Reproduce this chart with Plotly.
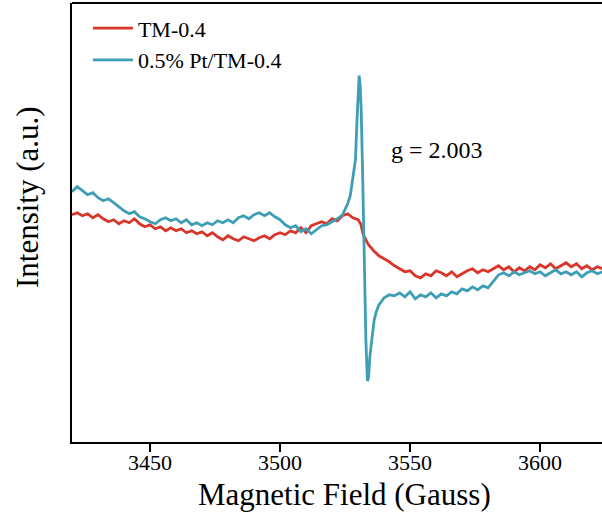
import plotly.graph_objects as go

# --- data ---
field_tm = [3420, 3422, 3424, 3426, 3428, 3430, 3432, 3434, 3436, 3438,
            3440, 3442, 3444, 3446, 3448, 3450, 3452, 3454, 3456, 3458,
            3460, 3462, 3464, 3466, 3468, 3470, 3472, 3474, 3476, 3478,
            3480, 3482, 3484, 3486, 3488, 3490, 3492, 3494, 3496, 3498,
            3500, 3502, 3504, 3506, 3508, 3510, 3512, 3514, 3516, 3518,
            3520, 3522, 3524, 3526, 3528, 3530, 3531, 3532, 3534, 3536,
            3538, 3540, 3542, 3544, 3546, 3548, 3550, 3552, 3554, 3556,
            3558, 3560, 3562, 3564, 3566, 3568, 3570, 3572, 3574, 3576,
            3578, 3580, 3582, 3584, 3586, 3588, 3590, 3592, 3594, 3596,
            3598, 3600, 3602, 3604, 3606, 3608, 3610, 3612, 3614, 3616,
            3618, 3620, 3622, 3624]
int_tm = [227, 229, 226, 228, 224, 227, 223, 220, 222, 218,
          221, 219, 223, 218, 215, 217, 213, 215, 211, 214,
          211, 213, 209, 211, 208, 210, 206, 209, 205, 202,
          206, 203, 201, 205, 203, 201, 204, 206, 203, 207,
          209, 207, 211, 209, 214, 209, 216, 218, 220, 218,
          223, 221, 226, 228, 224, 222, 218, 207, 197, 191,
          186, 183, 180, 176, 173, 170, 171, 166, 164, 168,
          166, 171, 169, 166, 170, 165, 168, 171, 173, 169,
          172, 170, 173, 176, 172, 175, 170, 174, 171, 175,
          172, 177, 174, 178, 173, 176, 179, 175, 178, 173,
          176, 172, 175, 173]

field_pt = [3420, 3422, 3424, 3426, 3428, 3430, 3432, 3434, 3436, 3438,
            3440, 3442, 3444, 3446, 3448, 3450, 3452, 3454, 3456, 3458,
            3460, 3462, 3464, 3466, 3468, 3470, 3472, 3474, 3476, 3478,
            3480, 3482, 3484, 3486, 3488, 3490, 3492, 3494, 3496, 3498,
            3500, 3502, 3504, 3506, 3508, 3510, 3512, 3514, 3516, 3518,
            3520, 3522, 3524, 3525, 3526, 3527, 3528, 3529, 3529.6, 3530.0,
            3530.4, 3530.8, 3531.2, 3531.8, 3532.4, 3533.0, 3533.6, 3534.0, 3534.6, 3535.4,
            3536.2, 3537, 3538, 3540, 3542, 3544, 3546, 3548, 3550, 3552,
            3554, 3556, 3558, 3560, 3562, 3564, 3566, 3568, 3570, 3572,
            3574, 3576, 3578, 3580, 3582, 3584, 3586, 3588, 3590, 3592,
            3594, 3596, 3598, 3600, 3602, 3604, 3606, 3608, 3610, 3612,
            3614, 3616, 3618, 3620, 3622, 3624]
int_pt = [250, 255, 251, 247, 249, 244, 241, 243, 239, 235,
          231, 228, 230, 225, 223, 220, 218, 222, 224, 221,
          223, 219, 222, 217, 219, 216, 219, 217, 221, 219,
          222, 219, 224, 226, 223, 227, 229, 226, 229, 225,
          222, 217, 214, 216, 210, 213, 208, 212, 216, 217,
          220, 223, 227, 232, 238, 246, 262, 282, 322, 352,
          366, 357, 332, 262, 182, 102, 61, 64, 87, 107,
          122, 130, 137, 144, 147, 146, 149, 145, 150, 143,
          147, 145, 149, 144, 148, 146, 150, 148, 153, 151,
          155, 152, 156, 154, 161, 167, 169, 166, 170, 167,
          169, 171, 168, 170, 166, 169, 172, 168, 170, 167,
          170, 165, 169, 171, 168, 170]

x_ticks = [3450, 3500, 3550, 3600]
x_range = [3420, 3623.8]
y_range = [0, 438.5]

RED = "#D9352A"
BLUE = "#3E9EB6"
FONT = "Liberation Serif"

fig = go.Figure()
fig.add_trace(go.Scatter(x=field_tm, y=int_tm, mode="lines", name="TM-0.4",
                         line=dict(color=RED, width=2.8)))
fig.add_trace(go.Scatter(x=field_pt, y=int_pt, mode="lines", name="0.5% Pt/TM-0.4",
                         line=dict(color=BLUE, width=2.8)))

fig.add_annotation(x=3560.4, y=292, text="g = 2.003", showarrow=False,
                   font=dict(family=FONT, size=24, color="black"))

# axis titles
fig.add_annotation(xref="paper", yref="paper", x=0.515, y=0, yanchor="middle",
                   yshift=-52, text="Magnetic Field (Gauss)", showarrow=False,
                   font=dict(family=FONT, size=31, color="black"))
fig.add_annotation(xref="paper", yref="paper", x=0, y=0.558, xanchor="center",
                   xshift=-45, textangle=-90, text="Intensity (a.u.)", showarrow=False,
                   font=dict(family=FONT, size=31, color="black"))

# top frame line
fig.add_shape(type="line", xref="paper", yref="paper", x0=0, x1=1, y0=1, y1=1,
              line=dict(color="black", width=2))

fig.update_layout(
    width=602, height=515,
    margin=dict(l=72, r=0, t=3, b=73),
    paper_bgcolor="white", plot_bgcolor="white",
    font=dict(family=FONT, color="black"),
    showlegend=True,
    legend=dict(x=0.03, y=0.99, xanchor="left", yanchor="top",
                bgcolor="rgba(0,0,0,0)", font=dict(family=FONT, size=22),
                tracegroupgap=0, itemwidth=40),
)
fig.update_xaxes(range=x_range, tickvals=x_ticks, ticks="outside", ticklen=8,
                 tickwidth=1.5, tickcolor="black", showline=True, linecolor="black",
                 linewidth=2, showgrid=False, zeroline=False,
                 tickfont=dict(family=FONT, size=22), ticklabelstandoff=-8)
fig.update_yaxes(range=y_range, showticklabels=False, ticks="", showline=True,
                 linecolor="black", linewidth=2, showgrid=False, zeroline=False)

fig.write_html("out.html", config={"displayModeBar": False},
               post_script="document.body.style.margin='0';document.body.style.padding='0';")
